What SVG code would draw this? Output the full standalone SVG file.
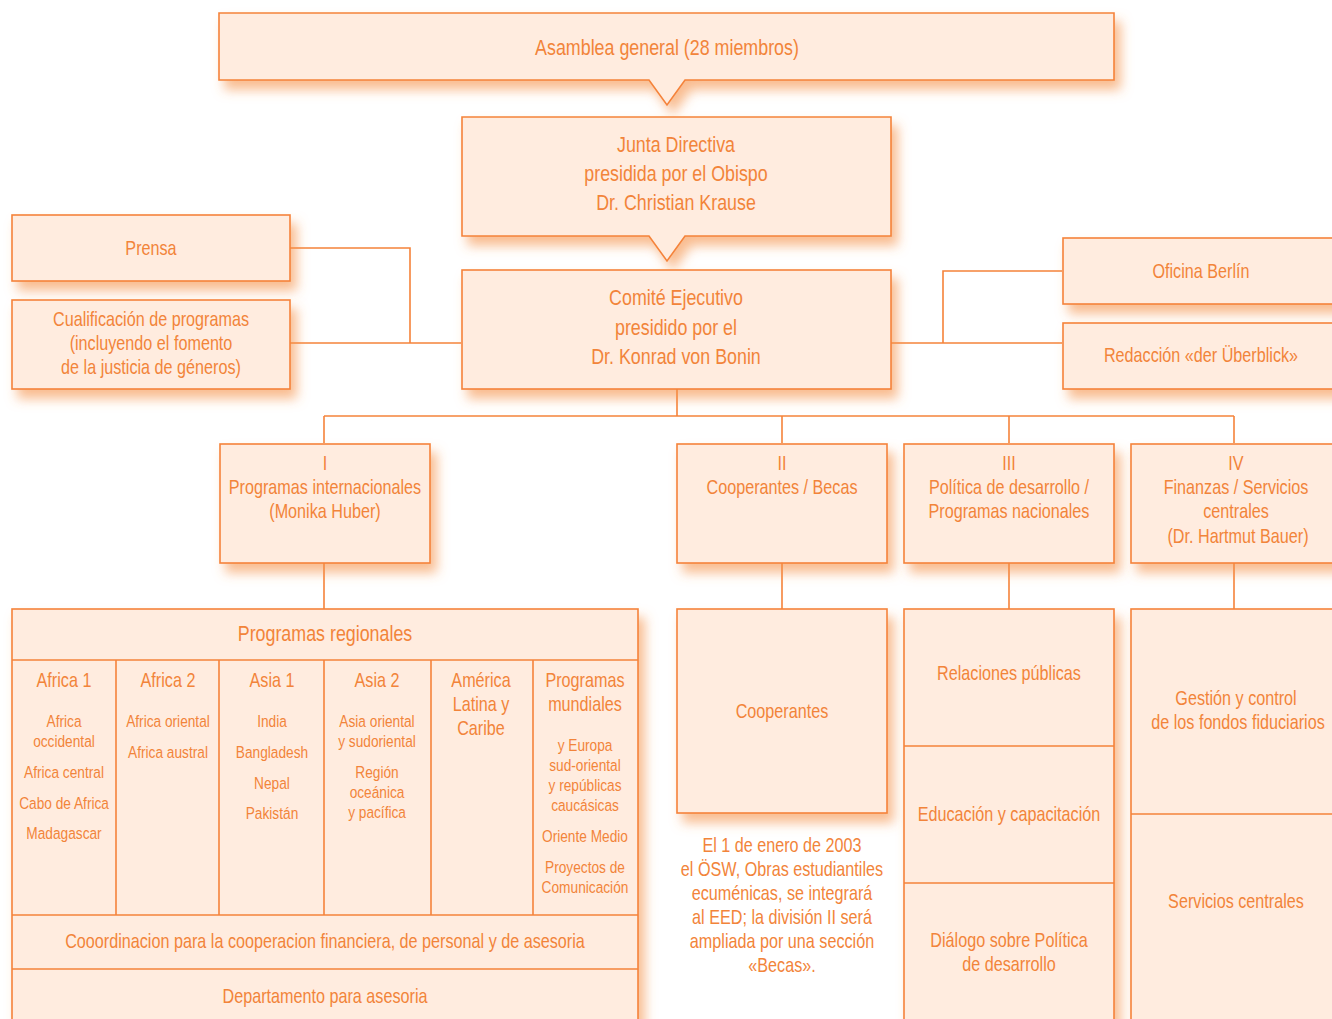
<svg xmlns="http://www.w3.org/2000/svg" width="1332" height="1019" viewBox="0 0 1332 1019">
<defs>
<filter id="sh" x="-10%" y="-20%" width="130%" height="160%">
<feGaussianBlur in="SourceAlpha" stdDeviation="6" result="b"/>
<feOffset in="b" dx="6" dy="9" result="o"/>
<feFlood flood-color="#F59046" flood-opacity="0.6"/>
<feComposite in2="o" operator="in" result="s"/>
<feMerge><feMergeNode in="s"/><feMergeNode in="SourceGraphic"/></feMerge>
</filter>
<style>
.b{fill:#FFECDF;stroke:#F5833A;stroke-width:1.6}
.d{fill:none;stroke:#F5833A;stroke-width:1.6}
.c{fill:none;stroke:#F5833A;stroke-width:1.6}
text{font-family:"Liberation Sans",Arial,sans-serif;fill:#F2843A;text-anchor:middle;transform-box:fill-box;transform-origin:center;transform:scaleX(0.83)}
.t20{font-size:21.5px}
.t18{font-size:19.5px}
.t16{font-size:16.5px}
</style>
</defs>
<rect width="1332" height="1019" fill="#FFFFFF"/>

<g id="connectors">
<polyline class="c" points="290,248 410,248 410,343"/>
<line class="c" x1="290" y1="343" x2="461" y2="343"/>
<line class="c" x1="891" y1="343" x2="1062" y2="343"/>
<polyline class="c" points="1062,271 943,271 943,343"/>
<line class="c" x1="677" y1="389" x2="677" y2="416"/>
<line class="c" x1="324" y1="416" x2="1234" y2="416"/>
<line class="c" x1="324" y1="416" x2="324" y2="443"/>
<line class="c" x1="782" y1="416" x2="782" y2="443"/>
<line class="c" x1="1009" y1="416" x2="1009" y2="443"/>
<line class="c" x1="1234" y1="416" x2="1234" y2="443"/>
<line class="c" x1="324" y1="563" x2="324" y2="609"/>
<line class="c" x1="782" y1="563" x2="782" y2="609"/>
<line class="c" x1="1009" y1="563" x2="1009" y2="609"/>
<line class="c" x1="1234" y1="563" x2="1234" y2="609"/>
</g>

<g id="asamblea">
<path class="b" filter="url(#sh)" d="M219,13 H1114 V80 H685 L667,105 L649,80 H219 Z"/>
<text class="t20" x="667" y="55">Asamblea general (28 miembros)</text>
</g>

<g id="junta">
<path class="b" filter="url(#sh)" d="M462,117 H891 V236 H685 L667,261 L649,236 H462 Z"/>
<text class="t20" x="676" y="152">Junta Directiva</text>
<text class="t20" x="676" y="181">presidida por el Obispo</text>
<text class="t20" x="676" y="210">Dr. Christian Krause</text>
</g>

<g id="comite">
<rect class="b" filter="url(#sh)" x="462" y="270" width="429" height="119"/>
<text class="t20" x="676" y="305">Comité Ejecutivo</text>
<text class="t20" x="676" y="335">presidido por el</text>
<text class="t20" x="676" y="364">Dr. Konrad von Bonin</text>
</g>

<g id="prensa">
<rect class="b" filter="url(#sh)" x="12" y="215" width="278" height="66"/>
<text class="t18" x="151" y="255">Prensa</text>
</g>

<g id="cualificacion">
<rect class="b" filter="url(#sh)" x="12" y="300" width="278" height="89"/>
<text class="t18" x="151" y="326">Cualificación de programas</text>
<text class="t18" x="151" y="350">(incluyendo el fomento</text>
<text class="t18" x="151" y="374">de la justicia de géneros)</text>
</g>

<g id="oficina">
<rect class="b" filter="url(#sh)" x="1063" y="238" width="280" height="66"/>
<text class="t18" x="1201" y="278">Oficina Berlín</text>
</g>

<g id="redaccion">
<rect class="b" filter="url(#sh)" x="1063" y="323" width="280" height="66"/>
<text class="t18" x="1201" y="362">Redacción «der Überblick»</text>
</g>

<g id="div1">
<rect class="b" filter="url(#sh)" x="220" y="444" width="210" height="119"/>
<text class="t18" x="325" y="470">I</text>
<text class="t18" x="325" y="494">Programas internacionales</text>
<text class="t18" x="325" y="518">(Monika Huber)</text>
</g>

<g id="div2">
<rect class="b" filter="url(#sh)" x="677" y="444" width="210" height="119"/>
<text class="t18" x="782" y="470">II</text>
<text class="t18" x="782" y="494">Cooperantes / Becas</text>
</g>

<g id="div3">
<rect class="b" filter="url(#sh)" x="904" y="444" width="210" height="119"/>
<text class="t18" x="1009" y="470">III</text>
<text class="t18" x="1009" y="494">Política de desarrollo /</text>
<text class="t18" x="1009" y="518">Programas nacionales</text>
</g>

<g id="div4">
<rect class="b" filter="url(#sh)" x="1131" y="444" width="212" height="119"/>
<text class="t18" x="1236" y="470">IV</text>
<text class="t18" x="1236" y="494">Finanzas / Servicios</text>
<text class="t18" x="1236" y="518">centrales</text>
<text class="t18" x="1238" y="543">(Dr. Hartmut Bauer)</text>
</g>

<g id="programas-regionales">
<rect class="b" filter="url(#sh)" x="12" y="609" width="626" height="430"/>
<line class="d" x1="12" y1="660" x2="638" y2="660"/>
<line class="d" x1="116" y1="660" x2="116" y2="915"/>
<line class="d" x1="219" y1="660" x2="219" y2="915"/>
<line class="d" x1="324" y1="660" x2="324" y2="915"/>
<line class="d" x1="431" y1="660" x2="431" y2="915"/>
<line class="d" x1="533" y1="660" x2="533" y2="915"/>
<line class="d" x1="12" y1="915" x2="638" y2="915"/>
<line class="d" x1="12" y1="969" x2="638" y2="969"/>
<text class="t20" x="325" y="641">Programas regionales</text>
<text class="t18" x="64" y="687">Africa 1</text>
<text class="t18" x="168" y="687">Africa 2</text>
<text class="t18" x="272" y="687">Asia 1</text>
<text class="t18" x="377" y="687">Asia 2</text>
<text class="t18" x="481" y="687">América</text>
<text class="t18" x="481" y="711">Latina y</text>
<text class="t18" x="481" y="735">Caribe</text>
<text class="t18" x="585" y="687">Programas</text>
<text class="t18" x="585" y="711">mundiales</text>
<text class="t16" x="64" y="727">Africa</text>
<text class="t16" x="64" y="747">occidental</text>
<text class="t16" x="64" y="778">Africa central</text>
<text class="t16" x="64" y="809">Cabo de Africa</text>
<text class="t16" x="64" y="839">Madagascar</text>
<text class="t16" x="168" y="727">Africa oriental</text>
<text class="t16" x="168" y="758">Africa austral</text>
<text class="t16" x="272" y="727">India</text>
<text class="t16" x="272" y="758">Bangladesh</text>
<text class="t16" x="272" y="789">Nepal</text>
<text class="t16" x="272" y="819">Pakistán</text>
<text class="t16" x="377" y="727">Asia oriental</text>
<text class="t16" x="377" y="747">y sudoriental</text>
<text class="t16" x="377" y="778">Región</text>
<text class="t16" x="377" y="798">oceánica</text>
<text class="t16" x="377" y="818">y pacífica</text>
<text class="t16" x="585" y="751">y Europa</text>
<text class="t16" x="585" y="771">sud-oriental</text>
<text class="t16" x="585" y="791">y repúblicas</text>
<text class="t16" x="585" y="811">caucásicas</text>
<text class="t16" x="585" y="842">Oriente Medio</text>
<text class="t16" x="585" y="873">Proyectos de</text>
<text class="t16" x="585" y="893">Comunicación</text>
<text class="t18" x="325" y="948">Cooordinacion para la cooperacion financiera, de personal y de asesoria</text>
<text class="t18" x="325" y="1003">Departamento para asesoria</text>
</g>

<g id="cooperantes">
<rect class="b" filter="url(#sh)" x="677" y="609" width="210" height="204"/>
<text class="t18" x="782" y="718">Cooperantes</text>
</g>

<g id="nota">
<text class="t18" x="782" y="852">El 1 de enero de 2003</text>
<text class="t18" x="782" y="876">el ÖSW, Obras estudiantiles</text>
<text class="t18" x="782" y="900">ecuménicas, se integrará</text>
<text class="t18" x="782" y="924">al EED; la división II será</text>
<text class="t18" x="782" y="948">ampliada por una sección</text>
<text class="t18" x="782" y="972">«Becas».</text>
</g>

<g id="div3-secciones">
<rect class="b" filter="url(#sh)" x="904" y="609" width="210" height="430"/>
<line class="d" x1="904" y1="746" x2="1114" y2="746"/>
<line class="d" x1="904" y1="883" x2="1114" y2="883"/>
<text class="t18" x="1009" y="680">Relaciones públicas</text>
<text class="t18" x="1009" y="821">Educación y capacitación</text>
<text class="t18" x="1009" y="947">Diálogo sobre Política</text>
<text class="t18" x="1009" y="971">de desarrollo</text>
</g>

<g id="div4-secciones">
<rect class="b" filter="url(#sh)" x="1131" y="609" width="212" height="430"/>
<line class="d" x1="1131" y1="814" x2="1343" y2="814"/>
<text class="t18" x="1236" y="705">Gestión y control</text>
<text class="t18" x="1238" y="729">de los fondos fiduciarios</text>
<text class="t18" x="1236" y="908">Servicios centrales</text>
</g>
</svg>
